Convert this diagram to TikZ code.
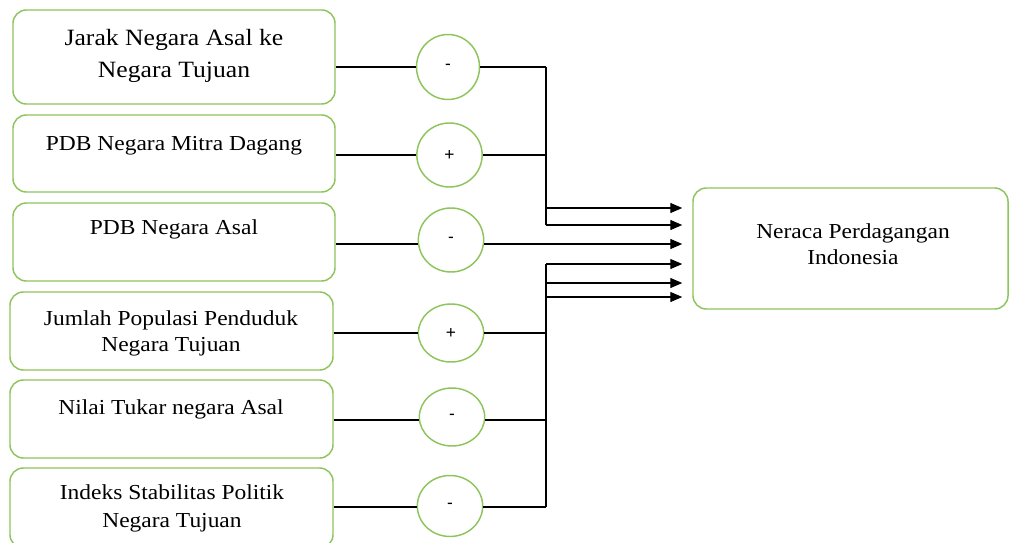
\documentclass[tikz,border=0pt]{standalone}
\usepackage{fontspec}
\setmainfont{Liberation Serif}[FakeStretch=1.1]
\newfontfamily\signfont{Liberation Sans}
\usetikzlibrary{arrows.meta,shapes.geometric}
\definecolor{boxgreen}{RGB}{141,196,92}
\tikzset{
  vbox/.style={draw=boxgreen, line width=1.1pt, rounded corners=10pt, inner sep=0pt},
  sign/.style={draw=boxgreen, line width=1.1pt, ellipse, inner sep=0pt, minimum width=49pt, minimum height=48pt, font=\signfont\fontsize{13}{15}\selectfont},
  lbl/.style={align=center, inner sep=0pt, font=\fontsize{16}{19.5}\selectfont},
  conn/.style={line width=0.95pt, black},
  arr/.style={conn, -{Triangle[length=9pt,width=7.5pt]}}
}
\begin{document}
\begin{tikzpicture}[x=0.75pt,y=-0.75pt]
\useasboundingbox (0,0) rectangle (1009,542);
% left boxes
\node[vbox, minimum width=241.5pt, minimum height=70.5pt] (b1) at (174,57) {};
\node[vbox, minimum width=241.5pt, minimum height=57.75pt] (b2) at (174,153.5) {};
\node[vbox, minimum width=241.5pt, minimum height=58.5pt] (b3) at (174,242) {};
\node[vbox, minimum width=242.25pt, minimum height=58.5pt] (b4) at (171.5,331) {};
\node[vbox, minimum width=242.25pt, minimum height=58.5pt] (b5) at (171.5,419) {};
\node[vbox, minimum width=242.25pt, minimum height=60pt] (b6) at (171.5,508) {};
% target box
\node[vbox, minimum width=236.25pt, minimum height=90.75pt] (t) at (850.5,248.5) {};
% texts
\node[lbl, font=\fontsize{17.5}{24}\selectfont] (t1) at (174,56) {Jarak Negara Asal ke\\Negara Tujuan};
\node[lbl] (t2) at (174,146) {PDB Negara Mitra Dagang};
\node[lbl] (t3) at (174,229) {PDB Negara Asal};
\node[lbl] (t4) at (171,333) {Jumlah Populasi Penduduk\\Negara Tujuan};
\node[lbl] (t5) at (171,409) {Nilai Tukar negara Asal};
\node[lbl, font=\fontsize{16}{21}\selectfont] (t6) at (172,508) {Indeks Stabilitas Politik\\Negara Tujuan};
\node[lbl] (tt) at (853,244.5) {Neraca Perdagangan\\Indonesia};
% sign circles
\node[sign, minimum height=48.75pt, minimum width=47.25pt] (c1) at (448,67) {-};
\node[sign] (c2) at (449.5,155) {+};
\node[sign] (c3) at (451,240) {-};
\node[sign, minimum height=43.5pt] (c4) at (451,333) {+};
\node[sign, minimum height=43.5pt] (c5) at (452,417) {-};
\node[sign, minimum height=45.75pt] (c6) at (450,506) {-};
% junction coordinates
\coordinate (j1) at (546,67);
\coordinate (j2) at (546,155);
\coordinate (ja) at (546,208);
\coordinate (jb) at (546,225);
\coordinate (jc) at (546,264);
\coordinate (jd) at (546,283);
\coordinate (je) at (546,297);
\coordinate (j4) at (546,333);
\coordinate (j5) at (546,420);
\coordinate (j6) at (546,507);
% box to circle
\draw[conn] (b1.east |- c1.west) -- (c1.west);
\draw[conn] (b2.east |- c2.west) -- (c2.west);
\draw[conn] (b3.east |- 0,244) -- (c3.west |- 0,244);
\draw[conn] (b4.east |- j4) -- (c4.west |- j4);
\draw[conn] (b5.east |- j5) -- (c5.west |- j5);
\draw[conn] (b6.east |- j6) -- (c6.west |- j6);
% circle to bus
\draw[conn] (c1.east) -- (j1);
\draw[conn] (c2.east) -- (j2);
\draw[conn] (c4.east |- j4) -- (j4);
\draw[conn] (c5.east |- j5) -- (j5);
\draw[conn] (c6.east |- j6) -- (j6);
\draw[conn] (j1) -- (jb);
\draw[conn] (jc) -- (j6);
% arrows
\draw[arr] (ja) -- ([xshift=-7.5pt]ja -| t.west);
\draw[arr] (jb) -- ([xshift=-7.5pt]jb -| t.west);
\draw[arr] (c3.east |- 0,244) -- ([xshift=-7.5pt]t.west |- 0,244);
\draw[arr] (jc) -- ([xshift=-7.5pt]jc -| t.west);
\draw[arr] (jd) -- ([xshift=-7.5pt]jd -| t.west);
\draw[arr] (je) -- ([xshift=-7.5pt]je -| t.west);
\end{tikzpicture}
\end{document}
